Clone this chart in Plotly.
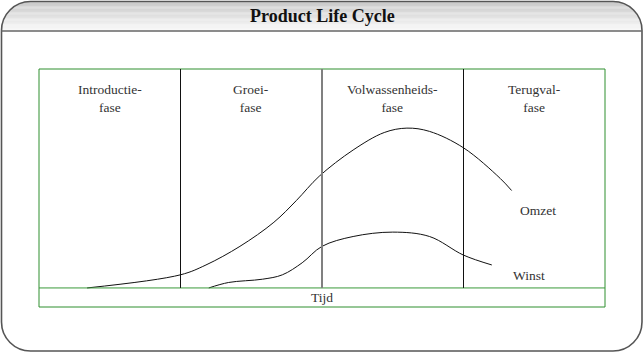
import plotly.graph_objects as go
import math

# ---- data (time 0-100 across the chart, level 0-100) ----
phase_names = ["Introductie-<br>fase", "Groei-<br>fase", "Volwassenheids-<br>fase", "Terugval-<br>fase"]
phase_bounds = [25, 50, 75]
phase_centers = [12.5, 37.5, 62.5, 87.5]

omzet_t = [8.5, 25, 29.5, 35.5, 41.5, 45.5, 49.5, 55.5, 61, 65, 69, 75, 81.5, 83.5]
omzet_v = [0, 6, 10.5, 19, 30, 40, 51, 63, 71, 73, 71.5, 64, 50, 44.5]

winst_t = [30, 33.5, 39.5, 43, 46.5, 50, 55.5, 62.5, 69, 75, 80]
winst_v = [0, 2.5, 4, 6, 11.5, 19, 23.5, 25.5, 23.5, 15, 10.5]

curve_labels = ["Omzet", "Winst"]
curve_label_t = [88.2, 86.6]
curve_label_v = [35.3, 5.5]

title = "Product Life Cycle"
axis_label = "Tijd"

# ---- layout geometry (pixels) ----
W, H = 644, 353
L, R, T, B = 39, 39, 69, 46
pw, ph = W - L - R, H - T - B

def px(x):
    return (x - L) / pw

def py(y):
    return (H - B - y) / ph

SERIF = "Liberation Serif, Times New Roman, serif"

fig = go.Figure()
fig.add_trace(go.Scatter(x=omzet_t, y=omzet_v, mode="lines",
                         line=dict(color="#111", width=1, shape="spline", smoothing=1.0),
                         hoverinfo="skip", showlegend=False))
fig.add_trace(go.Scatter(x=winst_t, y=winst_v, mode="lines",
                         line=dict(color="#111", width=1, shape="spline", smoothing=1.0),
                         hoverinfo="skip", showlegend=False))

shapes = []
# header gradient strips (drawn as closed paths)
fl, fr, ft, fb = 1.5, 642.0, 1.5, 351.0
rad = 29.0
hdr_bottom = 31.0
y = ft
while y < hdr_bottom:
    y1 = min(y + 1.2, hdr_bottom)
    ym = (y + y1) / 2
    cy = ft + rad
    if ym < cy:
        dy = cy - ym
        dx = math.sqrt(max(rad * rad - dy * dy, 0))
        xl = fl + rad - dx
        xr = fr - rad + dx
    else:
        xl, xr = fl, fr
    f = (ym - ft) / (hdr_bottom - ft)
    g = int(round(0xc8 + (0xfa - 0xc8) * f))
    p = (f"M {px(xl)},{py(y)} L {px(xr)},{py(y)} L {px(xr)},{py(y1)} "
         f"L {px(xl)},{py(y1)} Z")
    shapes.append(dict(type="path", xref="paper", yref="paper", path=p,
                       fillcolor=f"rgb({g},{g},{g})", opacity=1,
                       line=dict(width=0, color=f"rgb({g},{g},{g})")))
    y = y1

# frame outline
k = 0.5523 * rad
pts = [
    f"M {px(fl)},{py(ft+rad)}",
    f"C {px(fl)},{py(ft+rad-k)} {px(fl+rad-k)},{py(ft)} {px(fl+rad)},{py(ft)}",
    f"L {px(fr-rad)},{py(ft)}",
    f"C {px(fr-rad+k)},{py(ft)} {px(fr)},{py(ft+rad-k)} {px(fr)},{py(ft+rad)}",
    f"L {px(fr)},{py(fb-rad)}",
    f"C {px(fr)},{py(fb-rad+k)} {px(fr-rad+k)},{py(fb)} {px(fr-rad)},{py(fb)}",
    f"L {px(fl+rad)},{py(fb)}",
    f"C {px(fl+rad-k)},{py(fb)} {px(fl)},{py(fb-rad+k)} {px(fl)},{py(fb-rad)}",
    "Z",
]
shapes.append(dict(type="path", xref="paper", yref="paper", path=" ".join(pts),
                   line=dict(color="#555", width=1.6)))
# header separator
shapes.append(dict(type="line", xref="paper", yref="paper",
                   x0=px(fl), x1=px(fr), y0=py(hdr_bottom), y1=py(hdr_bottom),
                   line=dict(color="#666", width=1.5)))
# inner box
shapes.append(dict(type="rect", xref="paper", yref="paper", x0=0, x1=1, y0=0, y1=1,
                   line=dict(color="#2f8f2f", width=1)))
# time baseline
shapes.append(dict(type="line", xref="paper", yref="y", x0=0, x1=1, y0=0, y1=0,
                   line=dict(color="#3a9a3a", width=1)))
# phase boundaries
for b in phase_bounds:
    mid = b == 50
    shapes.append(dict(type="line", xref="x", yref="y", x0=b, x1=b, y0=0, y1=100,
                       line=dict(color="#808080" if mid else "#111", width=2 if mid else 1)))

ann = []
ann.append(dict(text=f"<b>{title}</b>", xref="paper", yref="paper", x=px(322), y=py(16.5),
                xanchor="center", yanchor="middle",
                showarrow=False, font=dict(family=SERIF, size=18, color="#111")))
for name, c in zip(phase_names, phase_centers):
    ann.append(dict(text=name, x=c, y=86.6, xref="x", yref="y", showarrow=False,
                    xanchor="center", yanchor="middle",
                    font=dict(family=SERIF, size=13.5, color="#333")))
for name, t, v in zip(curve_labels, curve_label_t, curve_label_v):
    ann.append(dict(text=name, x=t, y=v, xref="x", yref="y", showarrow=False,
                    xanchor="center", yanchor="middle",
                    font=dict(family=SERIF, size=13.5, color="#333")))
ann.append(dict(text=axis_label, x=50, y=-4.3, xref="x", yref="y", showarrow=False,
                xanchor="center", yanchor="middle",
                font=dict(family=SERIF, size=13.5, color="#333")))

fig.update_layout(
    width=W, height=H, autosize=False,
    margin=dict(l=L, r=R, t=T, b=B, pad=0),
    paper_bgcolor="white", plot_bgcolor="white",
    xaxis=dict(range=[0, 100], visible=False, showgrid=False, zeroline=False, fixedrange=True),
    yaxis=dict(range=[-8.7, 100], visible=False, showgrid=False, zeroline=False, fixedrange=True),
    shapes=shapes, annotations=ann, showlegend=False,
)
fig.write_html("out.html", config={"displayModeBar": False})
